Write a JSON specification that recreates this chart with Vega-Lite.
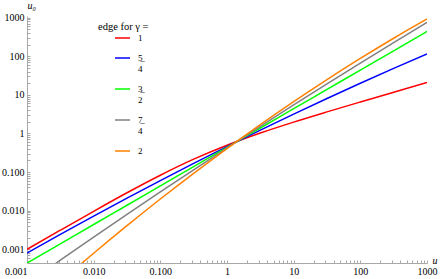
{
  "$schema": "https://vega.github.io/schema/vega-lite/v6.json",
  "width": 400,
  "height": 247,
  "autosize": "none",
  "padding": {"left": 27, "top": 16, "right": 13, "bottom": 16},
  "background": "white",
  "config": {"view": {"stroke": null}, "font": "Liberation Serif"},
  "data": {"values": [
    {"gamma": "1", "u": 0.001, "u0": 0.000993},
    {"gamma": "1", "u": 0.003162, "u0": 0.00311},
    {"gamma": "1", "u": 0.01, "u0": 0.00962},
    {"gamma": "1", "u": 0.03162, "u0": 0.029},
    {"gamma": "1", "u": 0.1, "u0": 0.0826},
    {"gamma": "1", "u": 0.3162, "u0": 0.215},
    {"gamma": "1", "u": 1, "u0": 0.495},
    {"gamma": "1", "u": 3.162, "u0": 1.023},
    {"gamma": "1", "u": 10, "u0": 1.963},
    {"gamma": "1", "u": 31.62, "u0": 3.61},
    {"gamma": "1", "u": 100, "u0": 6.52},
    {"gamma": "1", "u": 316.2, "u0": 11.67},
    {"gamma": "1", "u": 1000, "u0": 20.8},
    {"gamma": "5/4", "u": 0.001, "u0": 0.000793},
    {"gamma": "5/4", "u": 0.003162, "u0": 0.00242},
    {"gamma": "5/4", "u": 0.01, "u0": 0.00723},
    {"gamma": "5/4", "u": 0.03162, "u0": 0.0211},
    {"gamma": "5/4", "u": 0.1, "u0": 0.0601},
    {"gamma": "5/4", "u": 0.3162, "u0": 0.1675},
    {"gamma": "5/4", "u": 1, "u0": 0.456},
    {"gamma": "5/4", "u": 3.162, "u0": 1.213},
    {"gamma": "5/4", "u": 10, "u0": 3.155},
    {"gamma": "5/4", "u": 31.62, "u0": 8.02},
    {"gamma": "5/4", "u": 100, "u0": 19.9},
    {"gamma": "5/4", "u": 316.2, "u0": 48.3},
    {"gamma": "5/4", "u": 1000, "u0": 114.5},
    {"gamma": "3/2", "u": 0.001, "u0": 0.000437},
    {"gamma": "3/2", "u": 0.003162, "u0": 0.00138},
    {"gamma": "3/2", "u": 0.01, "u0": 0.00437},
    {"gamma": "3/2", "u": 0.03162, "u0": 0.0138},
    {"gamma": "3/2", "u": 0.1, "u0": 0.0437},
    {"gamma": "3/2", "u": 0.3162, "u0": 0.138},
    {"gamma": "3/2", "u": 1, "u0": 0.437},
    {"gamma": "3/2", "u": 3.162, "u0": 1.38},
    {"gamma": "3/2", "u": 10, "u0": 4.37},
    {"gamma": "3/2", "u": 31.62, "u0": 13.8},
    {"gamma": "3/2", "u": 100, "u0": 43.7},
    {"gamma": "3/2", "u": 316.2, "u0": 138},
    {"gamma": "3/2", "u": 1000, "u0": 437},
    {"gamma": "7/4", "u": 0.002512, "u0": 0.000394},
    {"gamma": "7/4", "u": 0.003162, "u0": 0.00052},
    {"gamma": "7/4", "u": 0.01, "u0": 0.00205},
    {"gamma": "7/4", "u": 0.03162, "u0": 0.00796},
    {"gamma": "7/4", "u": 0.1, "u0": 0.0304},
    {"gamma": "7/4", "u": 0.3162, "u0": 0.114},
    {"gamma": "7/4", "u": 1, "u0": 0.422},
    {"gamma": "7/4", "u": 3.162, "u0": 1.532},
    {"gamma": "7/4", "u": 10, "u0": 5.47},
    {"gamma": "7/4", "u": 31.62, "u0": 19.2},
    {"gamma": "7/4", "u": 100, "u0": 66.4},
    {"gamma": "7/4", "u": 316.2, "u0": 226},
    {"gamma": "7/4", "u": 1000, "u0": 755},
    {"gamma": "2", "u": 0.00631, "u0": 0.000403},
    {"gamma": "2", "u": 0.01, "u0": 0.000789},
    {"gamma": "2", "u": 0.03162, "u0": 0.00408},
    {"gamma": "2", "u": 0.1, "u0": 0.02},
    {"gamma": "2", "u": 0.3162, "u0": 0.0927},
    {"gamma": "2", "u": 1, "u0": 0.406},
    {"gamma": "2", "u": 3.162, "u0": 1.689},
    {"gamma": "2", "u": 10, "u0": 6.645},
    {"gamma": "2", "u": 31.62, "u0": 24.8},
    {"gamma": "2", "u": 100, "u0": 87.3},
    {"gamma": "2", "u": 316.2, "u0": 291.7},
    {"gamma": "2", "u": 1000, "u0": 922}
  ]},
  "mark": {"type": "line", "clip": true, "strokeWidth": 1.5, "interpolate": "monotone"},
  "encoding": {
    "x": {
      "field": "u", "type": "quantitative",
      "scale": {"type": "log", "domain": [0.001, 1000], "nice": false},
      "axis": {
        "values": [0.001,0.002,0.003,0.004,0.005,0.006,0.007,0.008,0.009,0.01,0.02,0.03,0.04,0.05,0.06,0.07,0.08,0.09,0.1,0.2,0.3,0.4,0.5,0.6,0.7,0.8,0.9,1,2,3,4,5,6,7,8,9,10,20,30,40,50,60,70,80,90,100,200,300,400,500,600,700,800,900,1000],
        "grid": false,
        "domainColor": "#a8a8a8",
        "tickColor": "#a8a8a8",
        "tickSize": -3,
        "labelExpr": "abs(log(datum.value)/LN10 - round(log(datum.value)/LN10)) < 0.001 ? (datum.value < 1 ? format(datum.value, '.3f') : format(datum.value, 'd')) : ''",
        "labelFont": "Liberation Serif",
        "labelFontSize": 10,
        "labelColor": "#000000",
        "labelOverlap": false,
        "labelFlush": false,
        "labelPadding": 6,
        "labelAlign": {"condition": {"test": "datum.value == 0.001", "value": "right"}, "value": "center"},
        "title": "u",
        "titleX": 405,
        "titleY": 0,
        "titleAngle": 0,
        "titleAlign": "left",
        "titleBaseline": "alphabetic",
        "titleFont": "Liberation Serif",
        "titleFontStyle": "italic",
        "titleFontWeight": "normal",
        "titleFontSize": 10,
        "titleColor": "#000000"
      }
    },
    "y": {
      "field": "u0", "type": "quantitative",
      "scale": {"type": "log", "domain": [0.00044, 1100], "nice": false},
      "axis": {
        "values": [0.0005,0.0006,0.0007,0.0008,0.0009,0.001,0.002,0.003,0.004,0.005,0.006,0.007,0.008,0.009,0.01,0.02,0.03,0.04,0.05,0.06,0.07,0.08,0.09,0.1,0.2,0.3,0.4,0.5,0.6,0.7,0.8,0.9,1,2,3,4,5,6,7,8,9,10,20,30,40,50,60,70,80,90,100,200,300,400,500,600,700,800,900,1000],
        "grid": false,
        "domainColor": "#a8a8a8",
        "tickColor": "#a8a8a8",
        "tickSize": -3,
        "labelExpr": "abs(log(datum.value)/LN10 - round(log(datum.value)/LN10)) < 0.001 ? (datum.value < 1 ? format(datum.value, '.3f') : format(datum.value, 'd')) : ''",
        "labelFont": "Liberation Serif",
        "labelFontSize": 10,
        "labelColor": "#000000",
        "labelOverlap": false,
        "labelFlush": false,
        "labelPadding": 6,
        "title": "u₀",
        "titleX": 0,
        "titleY": -8,
        "titleAngle": 0,
        "titleAlign": "left",
        "titleBaseline": "alphabetic",
        "titleFont": "Liberation Serif",
        "titleFontStyle": "italic",
        "titleFontWeight": "normal",
        "titleFontSize": 10,
        "titleColor": "#000000"
      }
    },
    "color": {
      "field": "gamma", "type": "nominal",
      "scale": {"domain": ["1", "5/4", "3/2", "7/4", "2"], "range": ["#ff0000", "#0000ff", "#00ff00", "#808080", "#ff8000"]},
      "legend": {
        "orient": "none",
        "legendX": 71,
        "legendY": 6,
        "padding": 0,
        "title": "edge for γ =",
        "titleFont": "Liberation Serif",
        "titleFontSize": 10.5,
        "titleFontWeight": "normal",
        "titleColor": "#000000",
        "titlePadding": -3,
        "symbolType": "stroke",
        "symbolSize": 225,
        "symbolStrokeWidth": 1.5,
        "symbolOffset": 16,
        "labelFont": "Liberation Serif",
        "labelFontSize": 9,
        "labelColor": "#000000",
        "labelOffset": 7,
        "rowPadding": 6,
        "labelExpr": "datum.label == '5/4' ? ['5̲', '4'] : datum.label == '3/2' ? ['3̲', '2'] : datum.label == '7/4' ? ['7̲', '4'] : datum.label"
      }
    }
  }
}
